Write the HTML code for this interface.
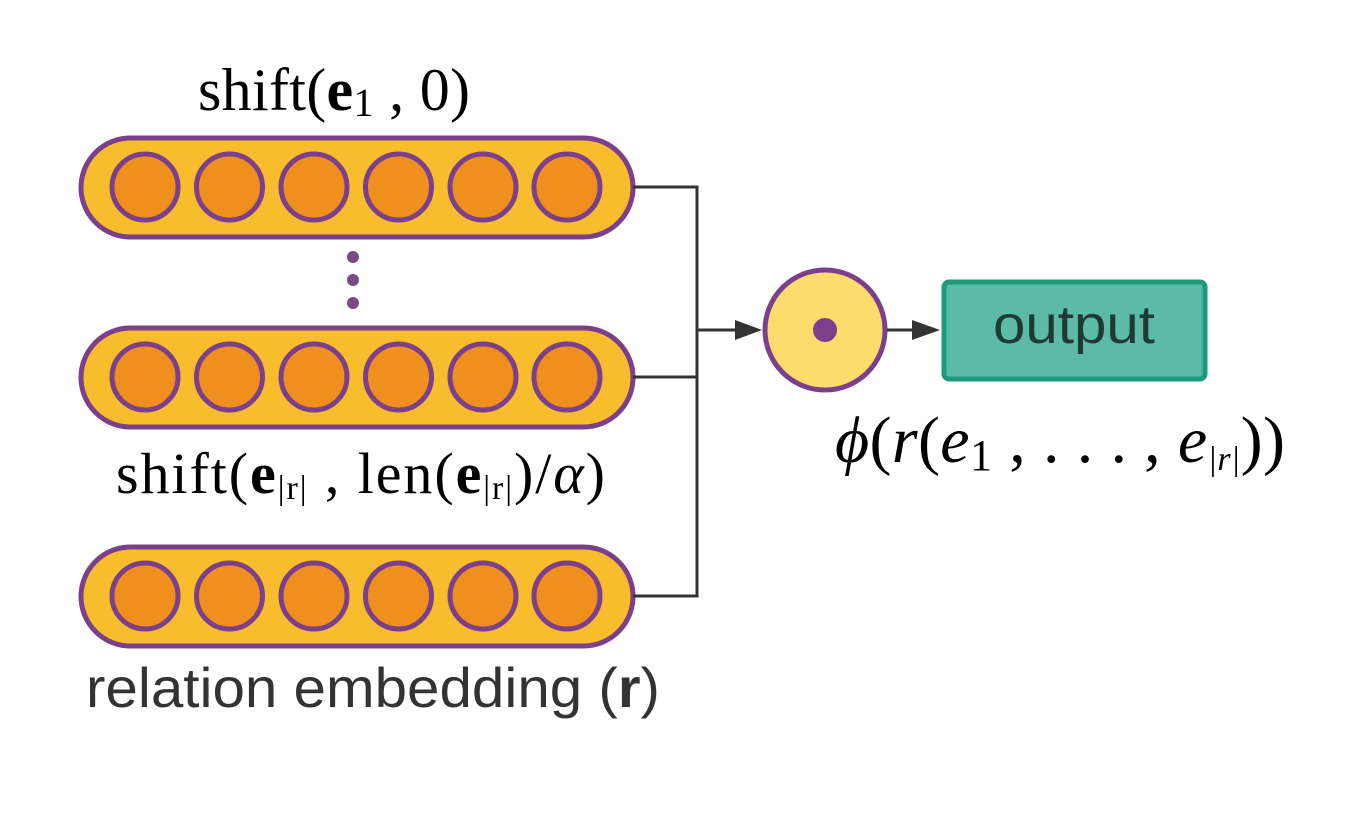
<!DOCTYPE html>
<html><head><meta charset="utf-8"><style>
body{margin:0;background:#fff;}
svg{display:block}
.serif{font-family:"Liberation Serif",serif;}
</style></head><body>
<svg width="1349" height="819" viewBox="0 0 1349 819" xmlns="http://www.w3.org/2000/svg">
<defs>
<g id="pill">
<rect x="81" y="-49" width="552" height="99" rx="49.5" fill="#f8bd2c" stroke="#7b3f8c" stroke-width="5"/>
<circle cx="145" cy="0" r="33" fill="#ee8f1e" stroke="#7b3f8c" stroke-width="5"/>
<circle cx="229.5" cy="0" r="33" fill="#ee8f1e" stroke="#7b3f8c" stroke-width="5"/>
<circle cx="314" cy="0" r="33" fill="#ee8f1e" stroke="#7b3f8c" stroke-width="5"/>
<circle cx="398.5" cy="0" r="33" fill="#ee8f1e" stroke="#7b3f8c" stroke-width="5"/>
<circle cx="483" cy="0" r="33" fill="#ee8f1e" stroke="#7b3f8c" stroke-width="5"/>
<circle cx="567" cy="0" r="33" fill="#ee8f1e" stroke="#7b3f8c" stroke-width="5"/>
</g>
</defs>
<use href="#pill" y="187"/>
<use href="#pill" y="377"/>
<use href="#pill" y="596"/>
<circle cx="353" cy="257" r="6" fill="#7b4a86"/>
<circle cx="353" cy="280" r="6" fill="#7b4a86"/>
<circle cx="353" cy="303" r="6" fill="#7b4a86"/>
<path d="M633 187 H697 V596 H633 M633 377 H697 M697 330 H740" fill="none" stroke="#333" stroke-width="3"/>
<polygon points="735,320 762,330 735,340" fill="#333"/>
<circle cx="825" cy="330" r="60" fill="#fcdc6c" stroke="#7b3f8c" stroke-width="5"/>
<circle cx="825" cy="330" r="12" fill="#7b3f8c"/>
<path d="M887 330 H915" stroke="#333" stroke-width="3"/>
<polygon points="912,320 940,330 912,340" fill="#333"/>
<rect x="944" y="282" width="261" height="97" rx="5" fill="#5bbba8" stroke="#1d9a7a" stroke-width="5"/>
<text x="993" y="343" font-family="Liberation Sans,sans-serif" font-size="54" fill="#1f3a36" textLength="162" lengthAdjust="spacingAndGlyphs">output</text>
<text class="serif" x="198" y="110" font-size="60" textLength="272" lengthAdjust="spacing">shift(<tspan font-weight="bold">e</tspan><tspan font-size="40" dy="6">1</tspan><tspan dy="-6"> , 0)</tspan></text>
<text class="serif" x="116" y="493" font-size="58" textLength="489" lengthAdjust="spacing">shift(<tspan font-weight="bold">e</tspan><tspan font-size="34" dy="6">|r|</tspan><tspan dy="-6"> , len(</tspan><tspan font-weight="bold">e</tspan><tspan font-size="34" dy="6">|r|</tspan><tspan dy="-6">)/</tspan><tspan font-style="italic">α</tspan>)</text>
<text x="86" y="707" font-family="Liberation Sans,sans-serif" font-size="56" fill="#333" textLength="574" lengthAdjust="spacingAndGlyphs">relation embedding (<tspan font-weight="bold">r</tspan>)</text>
<text class="serif" x="835" y="462" font-size="66" textLength="450" lengthAdjust="spacing"><tspan font-style="italic">ϕ</tspan>(<tspan font-style="italic">r</tspan>(<tspan font-style="italic">e</tspan><tspan font-size="44" dy="8">1</tspan><tspan dy="-8"> , . . . , </tspan><tspan font-style="italic">e</tspan><tspan font-size="34" dy="8" font-style="italic">|r|</tspan><tspan dy="-8">))</tspan></text>
</svg>
</body></html>
